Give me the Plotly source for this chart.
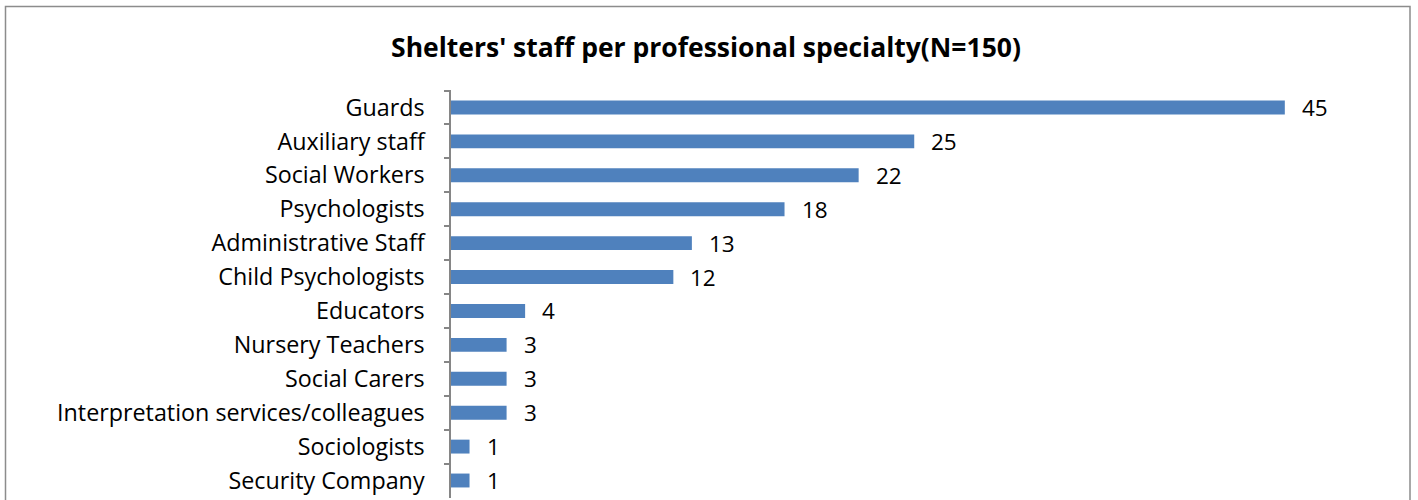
import plotly.graph_objects as go

# Staff counts per professional specialty
categories = [
    "Guards",
    "Auxiliary staff",
    "Social Workers",
    "Psychologists",
    "Administrative Staff",
    "Child Psychologists",
    "Educators",
    "Nursery Teachers",
    "Social Carers",
    "Interpretation services/colleagues",
    "Sociologists",
    "Security Company",
]
counts = [45, 25, 22, 18, 13, 12, 4, 3, 3, 3, 1, 1]
title_text = "Shelters' staff per professional specialty(N=150)"

W, H = 1418, 500
ML, MR, MT, MB = 451, 22, 90, 2
plot_w = W - ML - MR
plot_h = H - MT - MB
x_max = 51

FONT = "Open Sans"
LABEL_SIZE = 23.3
BAR = "#4F81BD"
AXIS = "#868686"

fig = go.Figure(
    go.Bar(
        x=counts,
        y=categories,
        orientation="h",
        marker=dict(color=BAR, line=dict(width=0)),
        width=0.41,
        hoverinfo="x+y",
    )
)

# value labels right of each bar
for c, v in zip(categories, counts):
    fig.add_annotation(
        x=v, y=c, text=str(v), showarrow=False,
        xanchor="left", yanchor="middle", xshift=15, yshift=0,
        font=dict(family=FONT, size=22.5, color="#000000"),
    )

# chart frame
def px_x(p):
    return (p - ML) / plot_w

def px_y(p):
    return (H - MB - p) / plot_h

fig.add_shape(
    type="rect", xref="paper", yref="paper",
    x0=px_x(5.5), x1=px_x(1410), y0=px_y(6.5), y1=px_y(520),
    line=dict(color="#8C8C8C", width=1.5), fillcolor="rgba(0,0,0,0)",
    layer="below",
)

fig.update_layout(
    width=W, height=H,
    margin=dict(l=ML, r=MR, t=MT, b=MB, autoexpand=False),
    paper_bgcolor="white", plot_bgcolor="white",
    showlegend=False,
    title=dict(
        text=f"<b>{title_text}</b>",
        x=706 / W, xanchor="center",
        y=1 - 48 / H, yanchor="middle",
        font=dict(family=FONT, size=26.5, color="#000000"),
    ),
    xaxis=dict(
        range=[0, x_max], visible=False, fixedrange=True,
    ),
    yaxis=dict(
        type="category",
        categoryorder="array", categoryarray=categories,
        autorange="reversed",
        showline=True, linecolor=AXIS, linewidth=1.5,
        ticks="outside", tickson="boundaries", ticklen=5, tickcolor=AXIS, tickwidth=1.5,
        ticklabelstandoff=20,
        tickfont=dict(family=FONT, size=LABEL_SIZE, color="#000000"),
        showgrid=False, zeroline=False,
    ),
    bargap=0.59,
)

fig.write_html("out.html")
